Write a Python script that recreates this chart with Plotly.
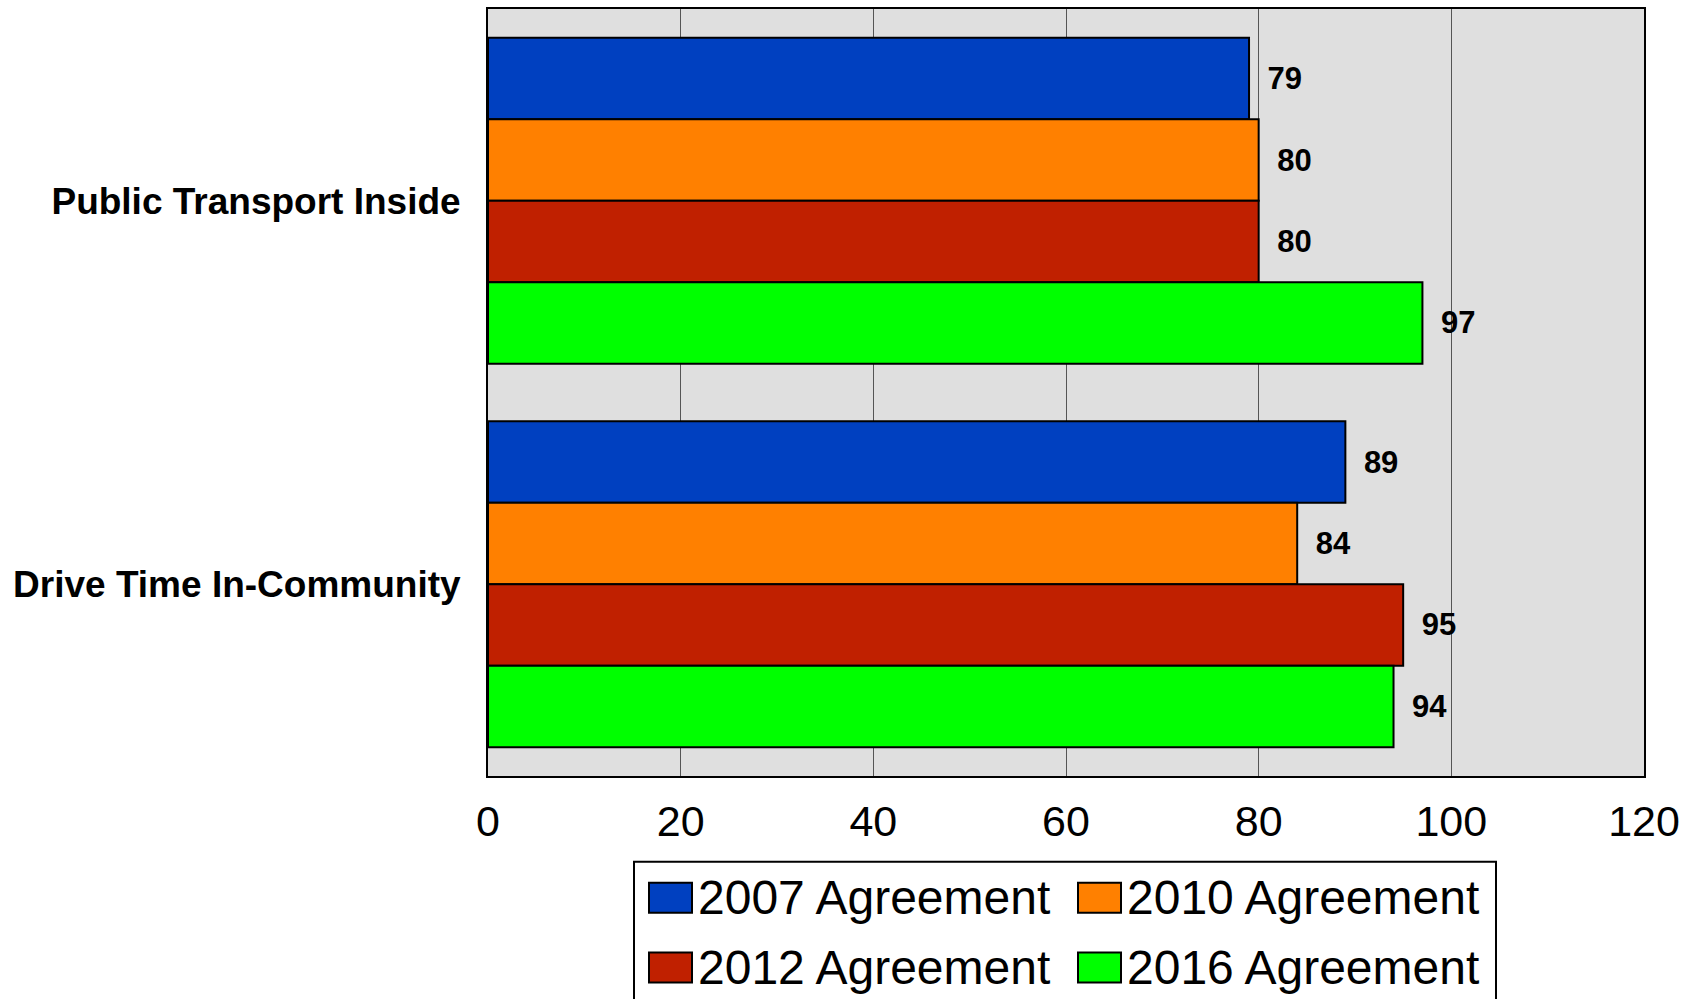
import plotly.graph_objects as go

categories = ["Public Transport Inside", "Drive Time In-Community"]
series_names = ["2007 Agreement", "2010 Agreement", "2012 Agreement", "2016 Agreement"]
values_2007 = [79, 89]
values_2010 = [80, 84]
values_2012 = [80, 95]
values_2016 = [97, 94]
series_values = [values_2007, values_2010, values_2012, values_2016]
colors = ["#0040C0", "#FF8000", "#C02000", "#00FF00"]
x_ticks = [0, 20, 40, 60, 80, 100, 120]

FONT = "Liberation Sans, Arial, Helvetica, sans-serif"
W, H = 1700, 999
ML, MR, MT, MB = 488, 56, 7, 223
PW, PH = W - ML - MR, H - MT - MB

fig = go.Figure()
for name, vals, col in zip(series_names, series_values, colors):
    fig.add_trace(go.Bar(
        y=categories, x=vals, name=name, orientation="h",
        marker=dict(color=col, line=dict(color="black", width=2)),
        texttemplate="\u2002%{x}", textposition="outside",
        textfont=dict(family=FONT, size=31, color="black", weight="bold"),
        constraintext="none", cliponaxis=False, showlegend=False,
    ))

# manual legend (large swatches like the original)
def px2paper_x(px):
    return (px - ML) / PW

def py2paper_y(py):
    return (H - MB - py) / PH

shapes = [dict(type="rect", xref="paper", yref="paper",
               x0=px2paper_x(634), x1=px2paper_x(1496),
               y0=py2paper_y(862), y1=py2paper_y(1060),
               line=dict(color="black", width=2), fillcolor="white", layer="above")]
annotations = []
col_x = [649, 1078]
row_y = [898, 968]
for i, (name, col) in enumerate(zip(series_names, colors)):
    cx = col_x[i % 2]
    cy = row_y[i // 2]
    shapes.append(dict(type="rect", xref="paper", yref="paper",
                       x0=px2paper_x(cx), x1=px2paper_x(cx + 43),
                       y0=py2paper_y(cy - 15), y1=py2paper_y(cy + 15),
                       line=dict(color="black", width=2), fillcolor=col, layer="above"))
    annotations.append(dict(xref="paper", yref="paper", x=px2paper_x(cx + 47), y=py2paper_y(cy),
                            xanchor="left", yanchor="middle", showarrow=False,
                            text=name, font=dict(family=FONT, size=48, color="black")))

fig.update_layout(
    width=W, height=H,
    margin=dict(l=ML, r=MR, t=MT, b=MB, pad=0),
    paper_bgcolor="white", plot_bgcolor="#DFDFDF",
    barmode="group", bargap=0.15, bargroupgap=0,
    showlegend=False,
    shapes=shapes, annotations=annotations,
    font=dict(family=FONT, color="black"),
)
fig.update_xaxes(
    range=[0, 120], tickvals=x_ticks, ticktext=[str(t) for t in x_ticks],
    showgrid=True, gridcolor="#555555", gridwidth=1,
    showline=True, mirror=True, linecolor="black", linewidth=2,
    ticks="", ticklabelstandoff=6,
    tickfont=dict(family=FONT, size=43, color="black"),
    zeroline=False,
)
fig.update_yaxes(
    autorange="reversed", showgrid=False,
    showline=True, mirror=True, linecolor="black", linewidth=2,
    ticks="", ticklabelstandoff=18,
    tickfont=dict(family=FONT, size=37, color="black", weight="bold"),
)

fig.write_html("out.html", config={"displayModeBar": False},
               post_script="document.body.style.margin='0';document.body.style.overflow='hidden';")
